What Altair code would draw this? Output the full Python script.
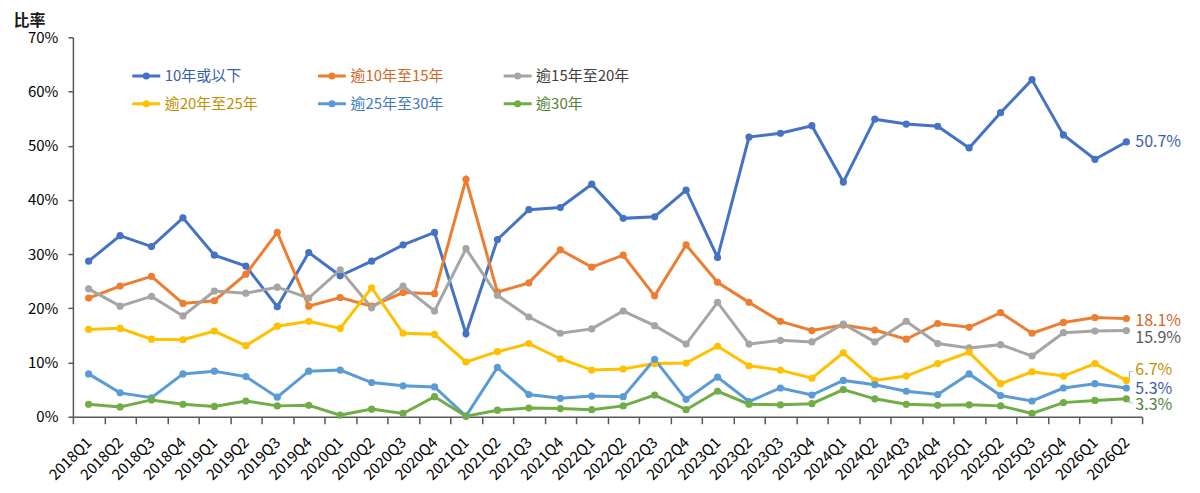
import altair as alt
import pandas as pd

quarters = [f"{y}Q{q}" for y in range(2018, 2027) for q in range(1, 5)][:34]

series = ["10年或以下", "逾10年至15年", "逾15年至20年", "逾20年至25年", "逾25年至30年", "逾30年"]

s_le10 = [28.7, 33.4, 31.4, 36.7, 29.8, 27.8, 20.3, 30.3, 26.0, 28.7, 31.7, 34.0,
          15.3, 32.7, 38.2, 38.6, 42.9, 36.6, 36.9, 41.8, 29.4, 51.6, 52.3, 53.7,
          43.3, 54.9, 54.0, 53.6, 49.6, 56.1, 62.2, 52.0, 47.5, 50.7]
s_10_15 = [21.9, 24.1, 25.9, 20.9, 21.4, 26.3, 34.0, 20.4, 22.0, 20.4, 22.9, 22.7,
           43.8, 23.0, 24.7, 30.8, 27.6, 29.8, 22.3, 31.7, 24.8, 21.1, 17.6, 15.9,
           16.9, 16.0, 14.3, 17.2, 16.5, 19.2, 15.4, 17.4, 18.3, 18.1]
s_15_20 = [23.6, 20.4, 22.2, 18.6, 23.2, 22.8, 23.9, 21.9, 27.1, 20.1, 24.1, 19.5,
           31.0, 22.4, 18.4, 15.4, 16.2, 19.5, 16.8, 13.4, 21.1, 13.4, 14.1, 13.8,
           17.1, 13.8, 17.6, 13.5, 12.7, 13.3, 11.2, 15.5, 15.8, 15.9]
s_20_25 = [16.1, 16.3, 14.3, 14.2, 15.8, 13.1, 16.7, 17.6, 16.3, 23.8, 15.4, 15.2,
           10.1, 12.0, 13.5, 10.7, 8.6, 8.8, 9.8, 9.9, 13.0, 9.4, 8.6, 7.1,
           11.8, 6.7, 7.5, 9.8, 11.9, 6.1, 8.3, 7.5, 9.8, 6.7]
s_25_30 = [7.9, 4.4, 3.5, 7.9, 8.4, 7.4, 3.6, 8.4, 8.6, 6.3, 5.7, 5.5,
           0.1, 9.1, 4.1, 3.4, 3.8, 3.7, 10.6, 3.2, 7.3, 2.8, 5.3, 4.0,
           6.7, 5.9, 4.7, 4.1, 7.9, 3.9, 2.9, 5.3, 6.1, 5.3]
s_gt30 = [2.3, 1.8, 3.1, 2.3, 1.9, 2.9, 2.0, 2.1, 0.3, 1.4, 0.6, 3.7,
          0.1, 1.2, 1.6, 1.5, 1.3, 2.0, 4.0, 1.3, 4.7, 2.3, 2.2, 2.4,
          5.0, 3.3, 2.3, 2.1, 2.2, 2.0, 0.6, 2.6, 3.0, 3.3]

all_values = [s_le10, s_10_15, s_15_20, s_20_25, s_25_30, s_gt30]

line_colors = ["#4472C4", "#ED7D31", "#A5A5A5", "#FFC000", "#5B9BD5", "#70AD47"]
text_colors = ["#3A5EAE", "#D4651E", "#404040", "#BF9000", "#3C7CBF", "#548235"]
end_text_colors = ["#3A5EAE", "#D4651E", "#595959", "#BF9000", "#3A5BA8", "#548235"]
end_dy = [0, 2, 7, -10, 1, 6]

rows = []
for name, vals in zip(series, all_values):
    for q, v in zip(quarters, vals):
        rows.append({"q": q, "s": name, "v": v})
df = pd.DataFrame(rows)

FONT = "Noto Sans CJK TC"

label_color_expr = " : ".join(
    [f"datum.value == '{n}' ? '{c}'" for n, c in zip(series[:-1], text_colors[:-1])]
) + f" : '{text_colors[-1]}'"

legend_symbol = "M-1,0H1M-0.15,0a0.15,0.15 0 1,0 0.3,0a0.15,0.15 0 1,0 -0.3,0"

x_enc = alt.X(
    "q:N",
    sort=quarters,
    scale=alt.Scale(type="band", paddingInner=0, paddingOuter=0),
    axis=alt.Axis(
        title=None,
        labelAngle=-45,
        labelAlign="right",
        labelBaseline="middle",
        labelFontSize=15,
        labelFont=FONT,
        labelColor="#000000",
        labelPadding=16,
        tickBand="extent",
        tickSize=7,
        tickColor="#595959",
        domainColor="#595959",
        domainWidth=1.5,
        tickWidth=1.5,
        grid=False,
    ),
)
y_enc = alt.Y(
    "v:Q",
    scale=alt.Scale(domain=[0, 70], nice=False),
    axis=alt.Axis(
        title="比率",
        titleAngle=0,
        titleAlign="left",
        titleBaseline="middle",
        titleX=-60,
        titleY=-17,
        titleFontSize=16,
        titleFont=FONT,
        titleFontWeight="bold",
        titleColor="#1a1a1a",
        values=[0, 10, 20, 30, 40, 50, 60, 70],
        labelExpr="datum.value + '%'",
        labelFontSize=15,
        labelFont=FONT,
        labelColor="#000000",
        labelPadding=10,
        tickSize=5,
        tickColor="#595959",
        domainColor="#595959",
        domainWidth=1.5,
        tickWidth=1.5,
        grid=False,
    ),
)
color_enc = alt.Color(
    "s:N",
    sort=series,
    scale=alt.Scale(domain=series, range=line_colors),
    legend=alt.Legend(
        title=None,
        orient="none",
        legendX=58,
        legendY=23,
        direction="horizontal",
        columns=3,
        gridAlign="all",
        columnPadding=53,
        rowPadding=4,
        padding=0,
        symbolType=legend_symbol,
        symbolSize=784,
        symbolStrokeWidth=3,
        labelFontSize=15,
        labelFont=FONT,
        labelOffset=3,
        labelColor=alt.ExprRef(expr=label_color_expr),
        labelLimit=300,
    ),
)

base = alt.Chart(df).encode(x=x_enc, y=y_enc, color=color_enc)
lines = base.mark_line(strokeWidth=3)
points = base.mark_point(filled=True, size=52, opacity=1)

layers = [lines, points]

last = df[df["q"] == quarters[-1]]

# leader lines for the crowded end labels (6.7% and 3.3%)
for name, y_from, y_to in [("逾20年至25年", -2, -9), ("逾30年", 1, 4)]:
    sub = last[last["s"] == name]
    vrule = (
        alt.Chart(sub)
        .mark_rule(color="#A6A6A6", strokeWidth=1, xOffset=3, yOffset=y_from, y2Offset=y_to)
        .encode(x=alt.X("q:N", sort=quarters), y="v:Q", y2="v:Q")
    )
    htick = (
        alt.Chart(sub)
        .mark_tick(color="#A6A6A6", orient="horizontal", size=4, thickness=1, xOffset=5, yOffset=y_to)
        .encode(x=alt.X("q:N", sort=quarters), y="v:Q")
    )
    layers += [vrule, htick]

for name, col, dy in zip(series, end_text_colors, end_dy):
    t = (
        alt.Chart(last[last["s"] == name])
        .transform_calculate(lbl="format(datum.v, '.1f') + '%'")
        .mark_text(align="left", baseline="middle", dx=9, dy=dy, fontSize=16, font=FONT, color=col)
        .encode(x=alt.X("q:N", sort=quarters), y=alt.Y("v:Q"), text="lbl:N")
    )
    layers.append(t)

chart = (
    alt.layer(*layers)
    .properties(
        width=1071,
        height=380,
        padding={"left": 65, "top": 29, "right": 50, "bottom": 70},
        autosize=alt.AutoSizeParams(type="none"),
    )
    .configure_view(stroke=None)
)

chart.save("out.html", embed_options={"renderer": "svg", "actions": False})
